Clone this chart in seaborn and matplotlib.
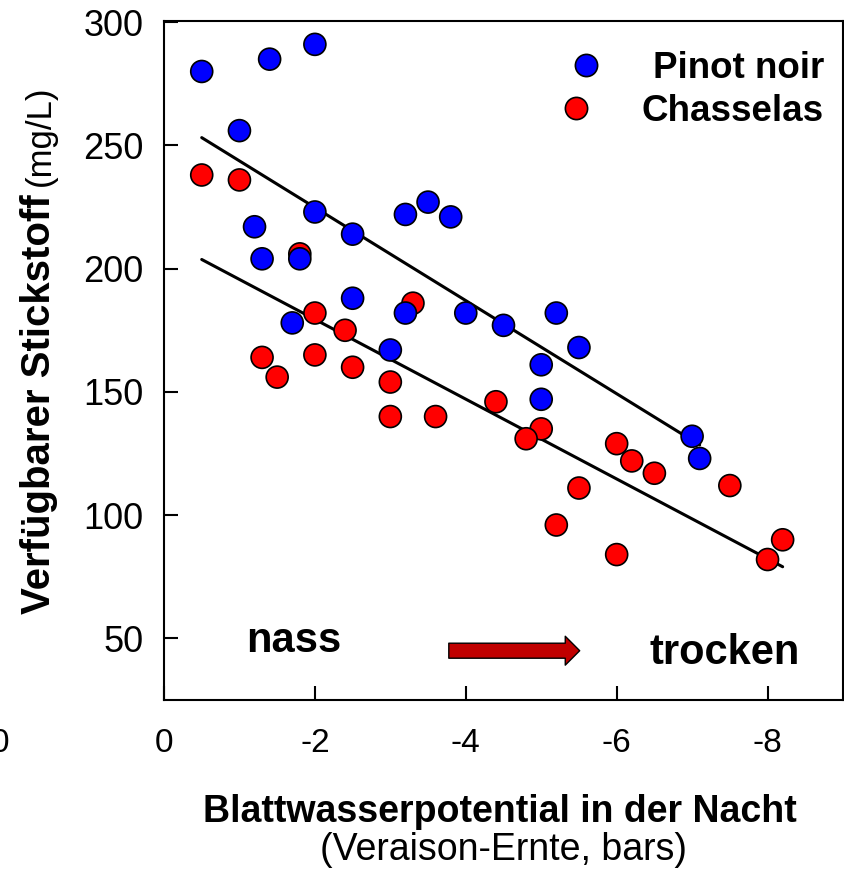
import numpy as np
import pandas as pd
import matplotlib
matplotlib.use("Agg")
import matplotlib.pyplot as plt
import seaborn as sns
from matplotlib.lines import Line2D

# ---- data ----
pinot_x = [-0.5, -1.4, -2.0, -1.0, -2.0, -2.5, -1.2, -3.2, -3.5, -3.8, -1.3, -1.8,
           -2.5, -1.7, -3.2, -4.0, -4.5, -3.0, -5.2, -5.5, -5.0, -5.0, -7.0, -7.1]
pinot_y = [280, 285, 291, 256, 223, 214, 217, 222, 227, 221, 204, 204,
           188, 178, 182, 182, 177, 167, 182, 168, 161, 147, 132, 123]
chass_x = [-0.5, -1.0, -2.0, -2.4, -3.3, -1.8, -1.3, -1.5, -2.0, -2.5, -3.0, -3.0,
           -3.6, -4.4, -5.0, -4.8, -6.0, -6.2, -6.5, -7.5, -5.5, -5.2, -6.0, -8.2, -8.0]
chass_y = [238, 236, 182, 175, 186, 206, 164, 156, 165, 160, 154, 140,
           140, 146, 135, 131, 129, 122, 117, 112, 111, 96, 84, 90, 82]
varieties = ["Pinot noir", "Chasselas"]
colors = ["#0000FF", "#FF0000"]
x_ticks = [0, -2, -4, -6, -8]
x_tick_labels = ["0", "-2", "-4", "-6", "-8"]
y_ticks = [50, 100, 150, 200, 250, 300]

sns.set_theme(style="ticks")
plt.rcParams["font.family"] = ["Liberation Sans", "DejaVu Sans"]
plt.rcParams["text.color"] = "black"
plt.rcParams["axes.labelcolor"] = "black"
plt.rcParams["xtick.color"] = "black"
plt.rcParams["ytick.color"] = "black"

df = pd.DataFrame({
    "x": chass_x + pinot_x,
    "y": chass_y + pinot_y,
    "Sorte": ["Chasselas"] * len(chass_x) + ["Pinot noir"] * len(pinot_x),
})

W, H = 844, 869
fig = plt.figure(figsize=(W / 100, H / 100), dpi=100)
fig.patch.set_facecolor("white")
ax = fig.add_axes([164 / W, 1 - 700 / H, 679 / W, (700 - 20.7) / H])
ax.set_facecolor("white")

for v in varieties:
    sub = df[df["Sorte"] == v]
    sns.regplot(data=sub, x="x", y="y", ax=ax, scatter=False, ci=None, truncate=True,
                line_kws=dict(color="black", lw=2.2, zorder=1))

sns.scatterplot(data=df, x="x", y="y", hue="Sorte", hue_order=varieties,
                palette=dict(zip(varieties, colors)), s=250, edgecolor="black",
                linewidth=1.2, legend=False, ax=ax, zorder=3)

ax.set_xlim(0, -9)
ax.set_ylim(25, 300.6)
ax.set_xticks(x_ticks)
ax.set_xticklabels(x_tick_labels)
ax.set_yticks(y_ticks)
ax.set_xlabel("")
ax.set_ylabel("")
for s in ax.spines.values():
    s.set_visible(True)
    s.set_color("black")
    s.set_linewidth(1.5)
ax.tick_params(axis="both", direction="in", length=10, width=1.5, colors="black")
ax.tick_params(axis="x", pad=20, labelsize=24)
ax.tick_params(axis="y", pad=15, labelsize=26)

# legend
handles = [Line2D([], [], ls="", marker="o", markersize=16, markerfacecolor=c,
                  markeredgecolor="black", markeredgewidth=1.2) for c in colors]
leg = ax.legend(handles, varieties, loc="upper right", bbox_to_anchor=(0.972, 0.955),
                frameon=False, prop=dict(weight="bold", size=26.5), borderpad=0,
                borderaxespad=0, labelspacing=0.2, handletextpad=0.8, handlelength=2.0)
for col in leg._legend_handle_box.get_children():
    col.align = "right"
for t in leg.get_texts():
    t.set_color("black")

# annotations
ax.text(-1.715, 44.3, "nass", fontsize=30, fontweight="bold", ha="center", va="baseline")
ax.text(-7.43, 39.7, "trocken", fontsize=30, fontweight="bold", ha="center", va="baseline")
ax.annotate("", xy=(-5.51, 45), xytext=(-3.775, 45),
            arrowprops=dict(arrowstyle="simple,head_length=0.52,head_width=1.04,tail_width=0.54",
                            mutation_scale=20, facecolor="#C00000", edgecolor="black",
                            lw=1, shrinkA=0, shrinkB=0))

# axis labels
fig.text(50 / W, 1 - 404 / H, "Verfügbarer Stickstoff", rotation=90,
         rotation_mode="anchor", ha="center", va="baseline", fontsize=29, fontweight="bold")
fig.text(50 / W, 1 - 136 / H, "(mg/L)", rotation=90,
         rotation_mode="anchor", ha="center", va="baseline", fontsize=25)
fig.text(500 / W, 1 - 822 / H, "Blattwasserpotential in der Nacht", ha="center",
         va="baseline", fontsize=27, fontweight="bold")
fig.text(504 / W, 1 - 860 / H, "(Veraison-Ernte, bars)", ha="center",
         va="baseline", fontsize=27)
fig.text(0.0, 1 - 752 / H, "0", ha="center", va="baseline", fontsize=24)

fig.savefig("out.png", dpi=100, facecolor="white")
